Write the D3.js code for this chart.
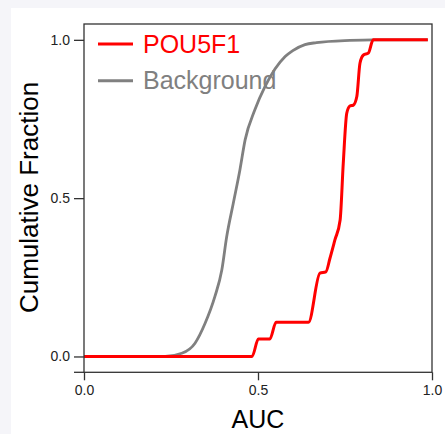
<!DOCTYPE html>
<html>
<head>
<meta charset="utf-8">
<script src="https://cdn.jsdelivr.net/npm/d3@7"></script>
<style>
  html, body { margin: 0; padding: 0; background: #f5f5f9; }
  svg { display: block; }
  text { font-family: "Liberation Sans", Arial, Helvetica, sans-serif; }
</style>
</head>
<body>
<svg></svg>
<script>
// cumulative fraction curves, [AUC, fraction]
let pouAuc  = [0.0, 0.483, 0.501, 0.534, 0.552, 0.645, 0.678, 0.695, 0.707, 0.721, 0.736, 0.745, 0.755, 0.764, 0.774, 0.784, 0.793, 0.803, 0.817, 0.831, 0.988];
let pouFrac = [0.0, 0.0,   0.055, 0.055, 0.108, 0.108, 0.263, 0.267, 0.311, 0.368, 0.431, 0.61,  0.768, 0.791, 0.794, 0.821, 0.926, 0.952, 0.958, 1.0,   1.0];

let bgAuc  = [0.0, 0.233, 0.281, 0.319, 0.348, 0.376, 0.396, 0.41,  0.429, 0.448, 0.463, 0.491, 0.52,  0.578, 0.6,  0.635, 0.668, 0.764, 0.83, 0.988];
let bgFrac = [0.0, 0.0,   0.01,  0.042, 0.105, 0.189, 0.273, 0.378, 0.484, 0.589, 0.684, 0.779, 0.852, 0.947, 0.966, 0.985, 0.991, 0.998, 1.0,  1.0];

let xTicks = [0, 0.5, 1.0];
let yTicks = [0, 0.5, 1.0];

let seriesNames = ["POU5F1", "Background"];
let seriesColors = ["#ff0000", "#808080"];

let width = 445;
let height = 434;
let padLeft = 84, padRight = 432, padTop = 24, padBottom = 372.3;

let svg = d3.select("svg").attr("width", width).attr("height", height);

// white panel
svg.append("rect")
   .attr("x", 11).attr("y", 8)
   .attr("width", width - 11).attr("height", height - 8)
   .attr("fill", "#ffffff");

let xScale = d3.scaleLinear().domain([0, 1]).range([padLeft, padRight]);
let yScale = d3.scaleLinear().domain([-0.05, 1.05]).range([padBottom, padTop]);

let line = d3.line()
             .x(d => xScale(d[0]))
             .y(d => yScale(d[1]))
             .curve(d3.curveMonotoneX);

let bgData = bgAuc.map((v, i) => [v, bgFrac[i]]);
let pouData = pouAuc.map((v, i) => [v, pouFrac[i]]);

svg.append("path")
   .datum(bgData)
   .attr("d", line)
   .attr("fill", "none")
   .attr("stroke", seriesColors[1])
   .attr("stroke-width", 2.8);

svg.append("path")
   .datum(pouData)
   .attr("d", line)
   .attr("fill", "none")
   .attr("stroke", seriesColors[0])
   .attr("stroke-width", 3);

// axes
let axisColor = "#333333";

let xAxis = d3.axisBottom(xScale).tickValues(xTicks).tickFormat(d3.format(".1f"))
              .tickSize(8).tickSizeOuter(0).tickPadding(5);
let gx = svg.append("g")
   .attr("transform", "translate(0," + padBottom + ")")
   .call(xAxis);

let yAxis = d3.axisLeft(yScale).tickValues(yTicks).tickFormat(d3.format(".1f"))
              .tickSize(10).tickSizeOuter(0).tickPadding(4);
let gy = svg.append("g")
   .attr("transform", "translate(" + padLeft + ",0)")
   .call(yAxis);

[gx, gy].forEach(g => {
  g.select(".domain").remove();
  g.selectAll("line").attr("stroke", axisColor).attr("stroke-width", 1.3);
  g.selectAll("text").attr("fill", "#222").style("font-size", "14px")
   .style("font-family", "'Liberation Sans', Arial, sans-serif");
});

// frame
svg.append("rect")
   .attr("x", padLeft).attr("y", padTop)
   .attr("width", padRight - padLeft).attr("height", padBottom - padTop)
   .attr("fill", "none")
   .attr("stroke", axisColor)
   .attr("stroke-width", 1.3);

svg.append("line")
   .attr("x1", padLeft - 10).attr("x2", padLeft)
   .attr("y1", padBottom).attr("y2", padBottom)
   .attr("stroke", axisColor).attr("stroke-width", 1.3);

// axis titles
svg.append("text")
   .attr("x", (padLeft + padRight) / 2)
   .attr("y", 428)
   .attr("text-anchor", "middle")
   .style("font-size", "25px")
   .attr("fill", "#000")
   .text("AUC");

svg.append("text")
   .attr("transform", "translate(38," + 197.5 + ") rotate(-90)")
   .attr("text-anchor", "middle")
   .style("font-size", "26px")
   .attr("fill", "#000")
   .text("Cumulative Fraction");

// legend
let legend = svg.append("g");
seriesNames.forEach((name, i) => {
  let yPos = 44 + i * 36.7;
  legend.append("line")
        .attr("x1", 98).attr("x2", 133)
        .attr("y1", yPos).attr("y2", yPos)
        .attr("stroke", seriesColors[i])
        .attr("stroke-width", 3);
  legend.append("text")
        .attr("x", 143)
        .attr("y", yPos + 8.5)
        .style("font-size", "25px")
        .attr("fill", seriesColors[i])
        .text(name);
});
</script>
</body>
</html>
